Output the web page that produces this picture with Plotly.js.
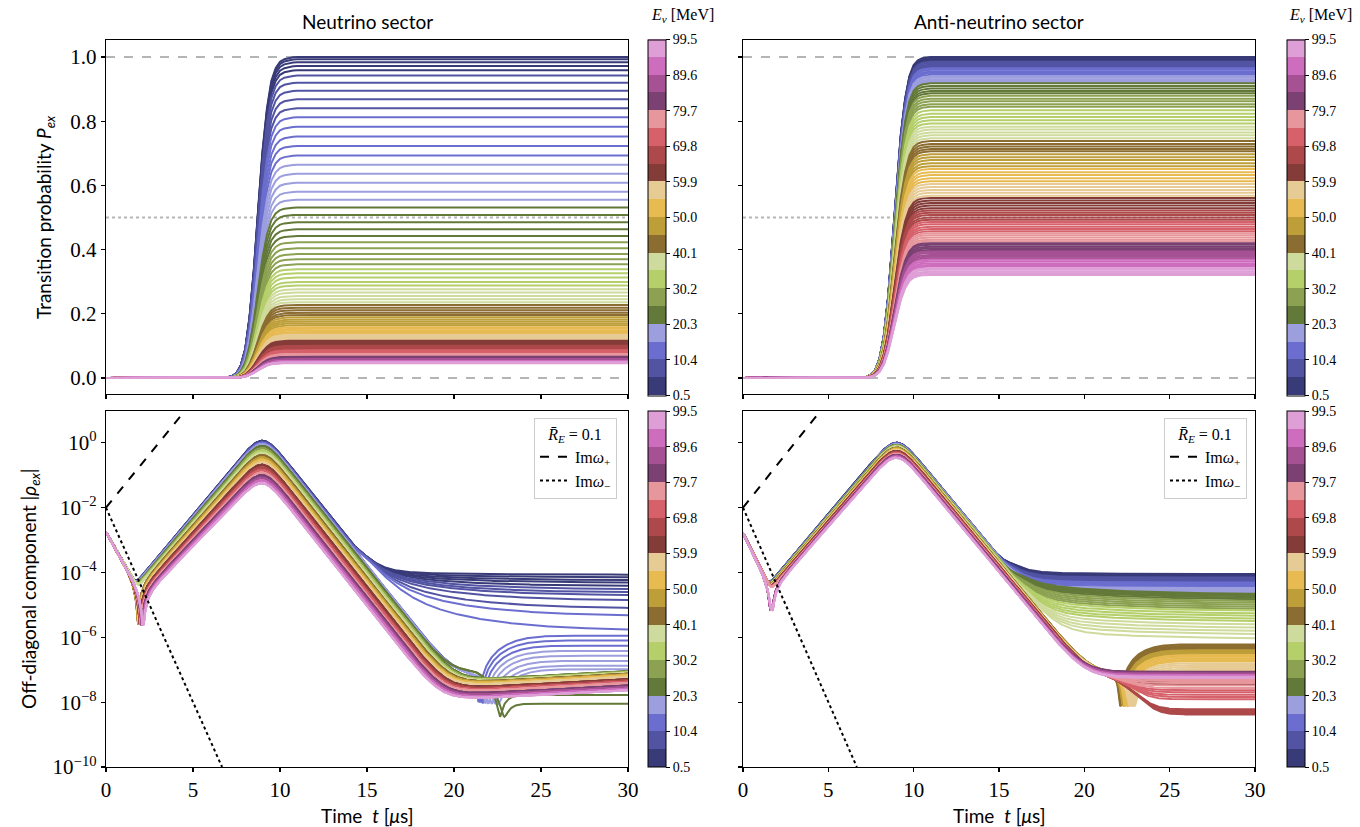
<!DOCTYPE html>
<html><head><meta charset="utf-8">
<script src="https://cdn.plot.ly/plotly-3.0.1.min.js"></script>
<style>html,body{margin:0;padding:0;background:#fff}#chart{width:1360px;height:827px}</style>
</head><body><div id="chart"></div>
<script>
// ---------------- DATA ----------------
const energies = [0.5,1.5,2.5,3.5,4.5,5.5,6.5,7.5,8.5,9.5,10.5,11.5,12.5,13.5,14.5,15.5,16.5,17.5,18.5,19.5,
20.5,21.5,22.5,23.5,24.5,25.5,26.5,27.5,28.5,29.5,30.5,31.5,32.5,33.5,34.5,35.5,36.5,37.5,38.5,39.5,
40.5,41.5,42.5,43.5,44.5,45.5,46.5,47.5,48.5,49.5,50.5,51.5,52.5,53.5,54.5,55.5,56.5,57.5,58.5,59.5,
60.5,61.5,62.5,63.5,64.5,65.5,66.5,67.5,68.5,69.5,70.5,71.5,72.5,73.5,74.5,75.5,76.5,77.5,78.5,79.5,
80.5,81.5,82.5,83.5,84.5,85.5,86.5,87.5,88.5,89.5,90.5,91.5,92.5,93.5,94.5,95.5,96.5,97.5,98.5,99.5];

const tab20b = ['#393b79','#5254a3','#6b6ecf','#9c9ede','#637939','#8ca252','#b5cf6b','#cedb9c',
'#8c6d31','#bd9e39','#e7ba52','#e7cb94','#843c39','#ad494a','#d6616b','#e7969c','#7b4173','#a55194','#ce6dbd','#de9ed6'];

const cbTickVals = [0.5,10.4,20.3,30.2,40.1,50.0,59.9,69.8,79.7,89.6,99.5];
const cbTickText = ['0.5','10.4','20.3','30.2','40.1','50.0','59.9','69.8','79.7','89.6','99.5'];

const xTicks = [0,5,10,15,20,25,30];
const pTicks = [0,0.2,0.4,0.6,0.8,1.0];
const pTickText = ['0.0','0.2','0.4','0.6','0.8','1.0'];
const rhoTicks = [1e-10,1e-8,1e-6,1e-4,1e-2,1];
const rhoTickText = ['10<sup>−10</sup>','10<sup>−8</sup>','10<sup>−6</sup>','10<sup>−4</sup>','10<sup>−2</sup>','10<sup>0</sup>'];

// normalised rise of the transition probability
const riseTime = [0,6,6.5,7,7.25,7.5,7.75,8,8.25,8.5,8.75,9,9.25,9.5,9.75,10,10.25,10.5,10.75,11,11.5,12,30];
const riseNu   = [0,0,0.0005,0.002,0.006,0.015,0.04,0.09,0.19,0.34,0.53,0.71,0.84,0.925,0.965,0.985,0.993,0.997,0.999,1,1,1,1];
const riseAnti = [0,0,0.0003,0.001,0.004,0.01,0.025,0.06,0.13,0.25,0.42,0.6,0.76,0.87,0.94,0.975,0.99,0.996,0.999,1,1,1,1];

// final transition probability per energy
const plateauNu = [1.0,0.993,0.984,0.972,0.959,0.942,0.920,0.895,0.868,0.840,0.812,0.783,0.752,0.723,0.693,0.664,0.636,0.608,0.580,0.555,
0.531,0.508,0.485,0.463,0.442,0.423,0.404,0.386,0.370,0.354,0.339,0.326,0.313,0.299,0.288,0.276,0.266,0.255,0.245,0.236,
0.227,0.219,0.211,0.203,0.196,0.189,0.182,0.176,0.170,0.164,0.158,0.153,0.148,0.143,0.139,0.135,0.131,0.127,0.123,0.119,
0.116,0.112,0.109,0.106,0.103,0.100,0.097,0.094,0.091,0.089,0.086,0.084,0.082,0.079,0.077,0.075,0.073,0.071,0.069,0.067,
0.066,0.064,0.063,0.061,0.060,0.059,0.058,0.056,0.055,0.054,0.053,0.052,0.051,0.051,0.050,0.049,0.048,0.047,0.047,0.046];
const plateauAnti = [1.0,0.998,0.995,0.992,0.988,0.985,0.981,0.977,0.973,0.969,0.965,0.960,0.955,0.950,0.945,0.940,0.935,0.930,0.926,0.922,
0.918,0.910,0.902,0.894,0.887,0.879,0.870,0.862,0.853,0.845,0.834,0.823,0.813,0.803,0.793,0.783,0.774,0.765,0.756,0.747,
0.738,0.729,0.721,0.713,0.706,0.697,0.688,0.679,0.669,0.660,0.651,0.641,0.632,0.622,0.613,0.604,0.595,0.586,0.577,0.568,
0.561,0.553,0.545,0.537,0.529,0.522,0.515,0.508,0.500,0.493,0.486,0.479,0.471,0.464,0.457,0.451,0.445,0.438,0.431,0.425,
0.420,0.415,0.409,0.404,0.399,0.394,0.389,0.383,0.378,0.373,0.368,0.363,0.357,0.352,0.347,0.342,0.337,0.331,0.326,0.321];

// off-diagonal component: log10 values read per colour band
const apexNu   = [0.06,0.03,0.0,-0.04,-0.1,-0.17,-0.24,-0.31,-0.38,-0.45,-0.52,-0.6,-0.68,-0.76,-0.84,-0.92,-1.0,-1.08,-1.16,-1.25];
const growNu   = [-4.15,-4.17,-4.18,-4.2,-4.24,-4.27,-4.31,-4.35,-4.39,-4.43,-4.47,-4.51,-4.55,-4.6,-4.64,-4.68,-4.73,-4.77,-4.81,-4.86];
const floorNu  = [-7.0,-7.0,-7.0,-7.0,-7.05,-7.07,-7.09,-7.11,-7.13,-7.15,-7.18,-7.22,-7.3,-7.34,-7.38,-7.42,-7.5,-7.55,-7.6,-7.65];
const nuPlateauEnds = [-4.07,-4.15,-4.24,-4.32,-4.42,-4.52,-4.62,-4.71,-4.87,-5.12,-5.35,-5.8];
const nuRecoverEnds = [-5.95,-6.1,-6.26,-6.42,-6.57,-6.73,-6.88,-6.99];
const nuDipEnds = [-7.81,-8.12];

const apexAnti = [0,-0.01,-0.02,-0.04,-0.06,-0.08,-0.1,-0.12,-0.15,-0.17,-0.2,-0.22,-0.25,-0.28,-0.31,-0.34,-0.37,-0.4,-0.43,-0.46];
const growAnti = [-4.07,-4.08,-4.09,-4.1,-4.11,-4.13,-4.14,-4.15,-4.17,-4.19,-4.21,-4.22,-4.24,-4.27,-4.29,-4.31,-4.33,-4.35,-4.37,-4.39];
const anPlateauEnds = [-4.05,-4.07,-4.09,-4.11,-4.13,-4.16,-4.19,-4.22,-4.25,-4.28,-4.31,-4.34,-4.37,-4.4,-4.44,-4.48,-4.52,-4.56,-4.6,-4.64,
-4.68,-4.72,-4.76,-4.8,-4.85,-4.9,-4.96,-5.02,-5.08,-5.14,-5.2,-5.28,-5.36,-5.44,-5.52,-5.62,-5.72,-5.82,-5.92,-6.05];
const anRecoverEnds = [-6.22,-6.26,-6.3,-6.34,-6.38,-6.4,-6.44,-6.48,-6.52,-6.56,-6.55,-6.6,-6.65,-6.7,-6.74,-6.8,-6.86,-6.92,-6.98,-7.04];
const anBendEnds = [-7.32,-7.36,-7.4,-7.44,-7.48,-8.3,-8.35,-8.4,-8.45,-8.5,-7.65,-7.72,-7.8,-7.87,-7.95,-7.3,-7.36,-7.42,-7.5,-7.58];
const anFloorEnds = [-7.07,-7.08,-7.09,-7.1,-7.11,-7.12,-7.13,-7.14,-7.15,-7.16,-7.17,-7.18,-7.19,-7.2,-7.21,-7.22,-7.23,-7.24,-7.25,-7.26];

const imPlusT = [0,5], imPlusRho = [1e-2,19.5];
const imMinusT = [0,6.67], imMinusRho = [1e-2,1e-10];

// ---------------- BUILD ----------------
const serif = 'Liberation Serif, DejaVu Serif, serif';
const sans = 'Lato, Open Sans, sans-serif';
function bandOf(E){ return Math.min(19, Math.floor((E-0.5)/(99/20))); }
const tGrid = []; for (let k=0;k<=600;k++) tGrid.push(k*0.05);

function rhoCurve(p){
  const top = p.apex + 0.3;
  return tGrid.map(t=>{
    const e1 = Math.pow(10, p.s0 + p.es*t);
    const G = p.g2 + (top-p.g2)*(t-2)/7;
    const D = top - p.ds*(t-9);
    const m = 1/(Math.pow(10,-G)+Math.pow(10,-D));
    let v = p.spike ? Math.abs(e1-m) : Math.cbrt(e1*e1*e1+m*m*m);
    if (t<4) v = Math.max(v, p.spikeFloor);
    if (p.type==='A'){
      const B = t<p.tb ? p.b0 - 0.45*(p.tb-t)*(p.tb-t) : p.end + (p.b0-p.end)*Math.exp(-(t-p.tb)/p.tau);
      v += Math.pow(10,B);
    } else if (p.type==='M'){
      v += Math.pow(10, p.end - p.fs*(30-t));
    } else {
      const F = Math.pow(10,p.F);
      const amp = p.type==='R' ? Math.pow(10,p.end)+F : F-Math.pow(10,p.end);
      const x = (t-p.t0)/p.tau;
      const S = t<p.t0 ? 0 : 1-Math.exp(-x*x);
      v = Math.abs(v + F - amp*S);
      if (p.cuspFloor){ const f = Math.pow(10,p.cuspFloor); v = Math.sqrt(v*v + f*f); }
    }
    return v + 1e-9;
  });
}

const traces = [];
const gray = '#b5b5b5';
[['x','y'],['x2','y2']].forEach(([xa,ya])=>{
  traces.push({x:[0,30],y:[1,1],xaxis:xa,yaxis:ya,mode:'lines',line:{color:gray,width:2,dash:'dash'},showlegend:false,hoverinfo:'skip'});
  traces.push({x:[0,30],y:[0,0],xaxis:xa,yaxis:ya,mode:'lines',line:{color:gray,width:2,dash:'dash'},showlegend:false,hoverinfo:'skip'});
  traces.push({x:[0,30],y:[0.5,0.5],xaxis:xa,yaxis:ya,mode:'lines',line:{color:gray,width:2,dash:'dot'},showlegend:false,hoverinfo:'skip'});
});

// top panels
energies.forEach((E,i)=>{
  const c = tab20b[bandOf(E)];
  traces.push({x:riseTime,y:riseNu.map(f=>f*plateauNu[i]),xaxis:'x',yaxis:'y',mode:'lines',line:{color:c,width:2},showlegend:false,hoverinfo:'skip'});
});
energies.forEach((E,i)=>{
  const c = tab20b[bandOf(E)];
  traces.push({x:riseTime,y:riseAnti.map(f=>f*plateauAnti[i]),xaxis:'x2',yaxis:'y2',mode:'lines',line:{color:c,width:2},showlegend:false,hoverinfo:'skip'});
});

// bottom-left (neutrino)
energies.forEach((E,i)=>{
  const b = bandOf(E);
  const p = {apex:apexNu[b], g2:growNu[b], s0:-2.75, es:-0.95, ds:0.68, spike:b>=8, spikeFloor:2.5e-6};
  if (i<12){ Object.assign(p,{type:'A', end:nuPlateauEnds[i], b0:-3.95, tb:15, tau:4}); }
  else if (i<20){ Object.assign(p,{type:'R', end:nuRecoverEnds[i-12], F:-7.2, t0:20.8, tau:2.5, cuspFloor:-8.1}); }
  else if (i<22){ Object.assign(p,{type:'R', end:nuDipEnds[i-20], F:-7.1, t0:21.0, tau:1.2, cuspFloor:-8.6}); }
  else { Object.assign(p,{type:'M', end:floorNu[b], fs:0.03}); }
  traces.push({x:tGrid,y:rhoCurve(p),xaxis:'x3',yaxis:'y3',mode:'lines',line:{color:tab20b[b],width:2},showlegend:false,hoverinfo:'skip'});
});
// bottom-right (anti-neutrino)
energies.forEach((E,i)=>{
  const b = bandOf(E);
  const p = {apex:apexAnti[b], g2:growAnti[b], s0:-2.78, es:-1.07, ds:0.64, spike:b>=16, spikeFloor:7e-6};
  if (i<20){ Object.assign(p,{type:'A', end:anPlateauEnds[i], b0:anPlateauEnds[i]+0.05, tb:16, tau:4}); }
  else if (i<40){ Object.assign(p,{type:'A', end:anPlateauEnds[i], b0:anPlateauEnds[i]+0.35, tb:16.5, tau:5}); }
  else if (i<60){ Object.assign(p,{type:'R', end:anRecoverEnds[i-40], F:-7.15, t0:21.4, tau:2.0, cuspFloor:-8.2}); }
  else if (i<80){ Object.assign(p,{type:'N', end:anBendEnds[i-60], F:-7.25, t0:20.8, tau:1.8}); }
  else { Object.assign(p,{type:'M', end:anFloorEnds[i-80], fs:0}); }
  traces.push({x:tGrid,y:rhoCurve(p),xaxis:'x4',yaxis:'y4',mode:'lines',line:{color:tab20b[b],width:2},showlegend:false,hoverinfo:'skip'});
});

// growth-rate guide lines
[['x3','y3','legend'],['x4','y4','legend2']].forEach(([xa,ya,lg])=>{
  traces.push({x:imPlusT,y:imPlusRho,xaxis:xa,yaxis:ya,mode:'lines',line:{color:'black',width:2,dash:'dash'},name:'Im<i>ω</i><sub>+</sub>',legend:lg,hoverinfo:'skip'});
  traces.push({x:imMinusT,y:imMinusRho,xaxis:xa,yaxis:ya,mode:'lines',line:{color:'black',width:2,dash:'dot'},name:'Im<i>ω</i><sub>−</sub>',legend:lg,hoverinfo:'skip'});
});

// colour bars
const cscale = [];
tab20b.forEach((c,k)=>{ cscale.push([k/20,c]); cscale.push([(k+1)/20,c]); });
const W=1360,H=827;
const cbPos = [[648,217.5],[1287,217.5],[648,589],[1287,589]];
cbPos.forEach(([x0,yc])=>{
  traces.push({x:[-10],y:[0.5],xaxis:'x',yaxis:'y',mode:'markers',showlegend:false,hoverinfo:'skip',
    marker:{size:1,opacity:0,color:[0.5],cmin:0.5,cmax:99.5,colorscale:cscale,showscale:true,
      colorbar:{x:x0/W,xanchor:'left',xpad:0,ypad:0,y:1-yc/H,yanchor:'middle',len:356/H,lenmode:'fraction',
        thickness:18,thicknessmode:'pixels',outlinewidth:1,outlinecolor:'black',
        tickmode:'array',tickvals:cbTickVals,ticktext:cbTickText,ticks:'outside',ticklen:4,tickcolor:'black',
        tickfont:{family:serif,size:14,color:'black'}}}});
});

// ---------------- LAYOUT ----------------
const axBase = {showline:true,linecolor:'black',linewidth:1.2,mirror:true,ticks:'outside',ticklen:4,tickwidth:1.2,tickcolor:'black',
  showgrid:false,zeroline:false,tickfont:{family:serif,size:21,color:'black'}};
const xL=[106/W,628/W], xR=[743/W,1255/W];
const yT=[1-394/H,1-40/H], yB=[1-767/H,1-411/H];
function xa(dom,anchor,labels){return Object.assign({},axBase,{domain:dom,anchor:anchor,range:[0,30],tickmode:'array',tickvals:xTicks,showticklabels:labels});}
function yp(dom,anchor,labels){return Object.assign({},axBase,{domain:dom,anchor:anchor,range:[-0.05,1.053],tickmode:'array',tickvals:pTicks,ticktext:pTickText,showticklabels:labels});}
function yr(dom,anchor,labels){return Object.assign({},axBase,{domain:dom,anchor:anchor,type:'log',range:[-10,0.98],tickmode:'array',tickvals:rhoTicks,ticktext:rhoTickText,showticklabels:labels});}

const legBase = {xanchor:'right',yanchor:'top',bgcolor:'rgba(255,255,255,0.85)',bordercolor:'#cccccc',borderwidth:1,
  font:{family:serif,size:16,color:'black'},title:{text:'<i>R̄</i><sub><i>E</i></sub> = 0.1',side:'top center',font:{family:serif,size:16,color:'black'}},
  tracegroupgap:0,itemwidth:30};

function ann(text,x,y,size,font,angle){return {text:text,x:x/W,y:1-y/H,xref:'paper',yref:'paper',showarrow:false,xanchor:'center',yanchor:'middle',
  textangle:angle||0,font:{family:font,size:size,color:'black'}};}

const layout = {
  width:W,height:H,margin:{l:0,r:0,t:0,b:0},paper_bgcolor:'white',plot_bgcolor:'white',showlegend:true,
  xaxis:xa(xL,'y',false), yaxis:yp(yT,'x',true),
  xaxis2:xa(xR,'y2',false), yaxis2:yp(yT,'x2',false),
  xaxis3:xa(xL,'y3',true), yaxis3:yr(yB,'x3',true),
  xaxis4:xa(xR,'y4',true), yaxis4:yr(yB,'x4',false),
  legend:Object.assign({},legBase,{x:617/W,y:1-418/H}),
  legend2:Object.assign({},legBase,{x:1247/W,y:1-418/H}),
  annotations:[
    ann('Neutrino sector',367,22,19,sans),
    ann('Anti-neutrino sector',999,22,19,sans),
    ann('<i>E<sub>ν</sub></i> [MeV]',682,16,16,serif),
    ann('<i>E<sub>ν</sub></i> [MeV]',1320,16,16,serif),
    ann('Transition probability <i>P<sub>ex</sub></i>',45,217,19,sans,-90),
    ann('Off-diagonal component |<i>ρ<sub>ex</sub></i>|',30,589,19,sans,-90),
    ann('Time  <i>t</i> [<i>μ</i>s]',367,815,19,sans),
    ann('Time  <i>t</i> [<i>μ</i>s]',999,815,19,sans)
  ]
};
Plotly.newPlot('chart',traces,layout,{staticPlot:true,displayModeBar:false});
</script></body></html>
